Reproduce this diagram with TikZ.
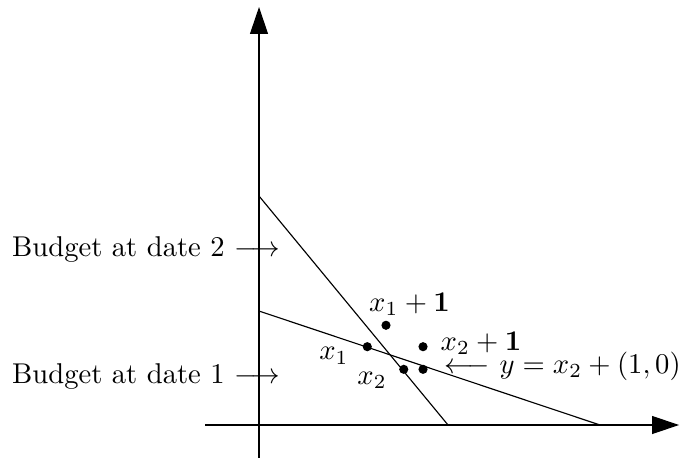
\documentclass[tikz,border=0pt]{standalone}
\usepackage{amsmath}
\usepackage{tikz}
\usetikzlibrary{arrows.meta,positioning}
\tikzset{
  axis/.style={-{Triangle[length=3.3mm,width=2.2mm]}},
  dot/.style={circle, fill, inner sep=0pt, minimum size=3.2pt},
  lbl/.style={inner sep=0pt}
}
\begin{document}
\begin{tikzpicture}
  \useasboundingbox (-3.182,-0.418) rectangle (5.184,5.221);
  % axes
  \coordinate (o) at (0,0);
  \coordinate (xs) at (-0.663,0); \coordinate (xe) at (5.16,0);
  \coordinate (ys) at (0,-0.405); \coordinate (ye) at (0,5.135);
  \draw[axis] (xs)--(xe);
  \draw[axis] (ys)--(ye);
  % budget lines
  \coordinate (b2a) at (0,2.813); \coordinate (b2b) at (2.322,0);
  \coordinate (b1a) at (0,1.400); \coordinate (b1b) at (4.189,0);
  \draw (b2a)--(b2b);
  \draw (b1a)--(b1b);
  % bundles
  \node[dot] (x1) at (1.330,0.962) {};
  \node[dot] (x1p) at (1.560,1.225) {};
  \node[dot] (x2) at (1.778,0.684) {};
  \node[dot] (x2p) at (2.015,0.962) {};
  \node[dot] (y) at (2.015,0.684) {};
  % labels
  \node[lbl] (lx1p) at (1.849,1.486) {$x_1+\mathbf{1}$};
  \node[lbl] (lx2p) at (2.727,1.001) {$x_2+\mathbf{1}$};
  \node[lbl] (lx1) at (0.921,0.848) {$x_1$};
  \node[lbl] (lx2) at (1.388,0.547) {$x_2$};
  \node[lbl, anchor=west] (ly) at (2.267,0.725) {$\longleftarrow$ $y=x_2+(1,0)$};
  \node[lbl, anchor=east] (d2) at (0.270,2.158) {Budget at date 2 $\longrightarrow$};
  \node[lbl, anchor=east] (d1) at (0.270,0.593) {Budget at date 1 $\longrightarrow$};
\end{tikzpicture}
\end{document}
